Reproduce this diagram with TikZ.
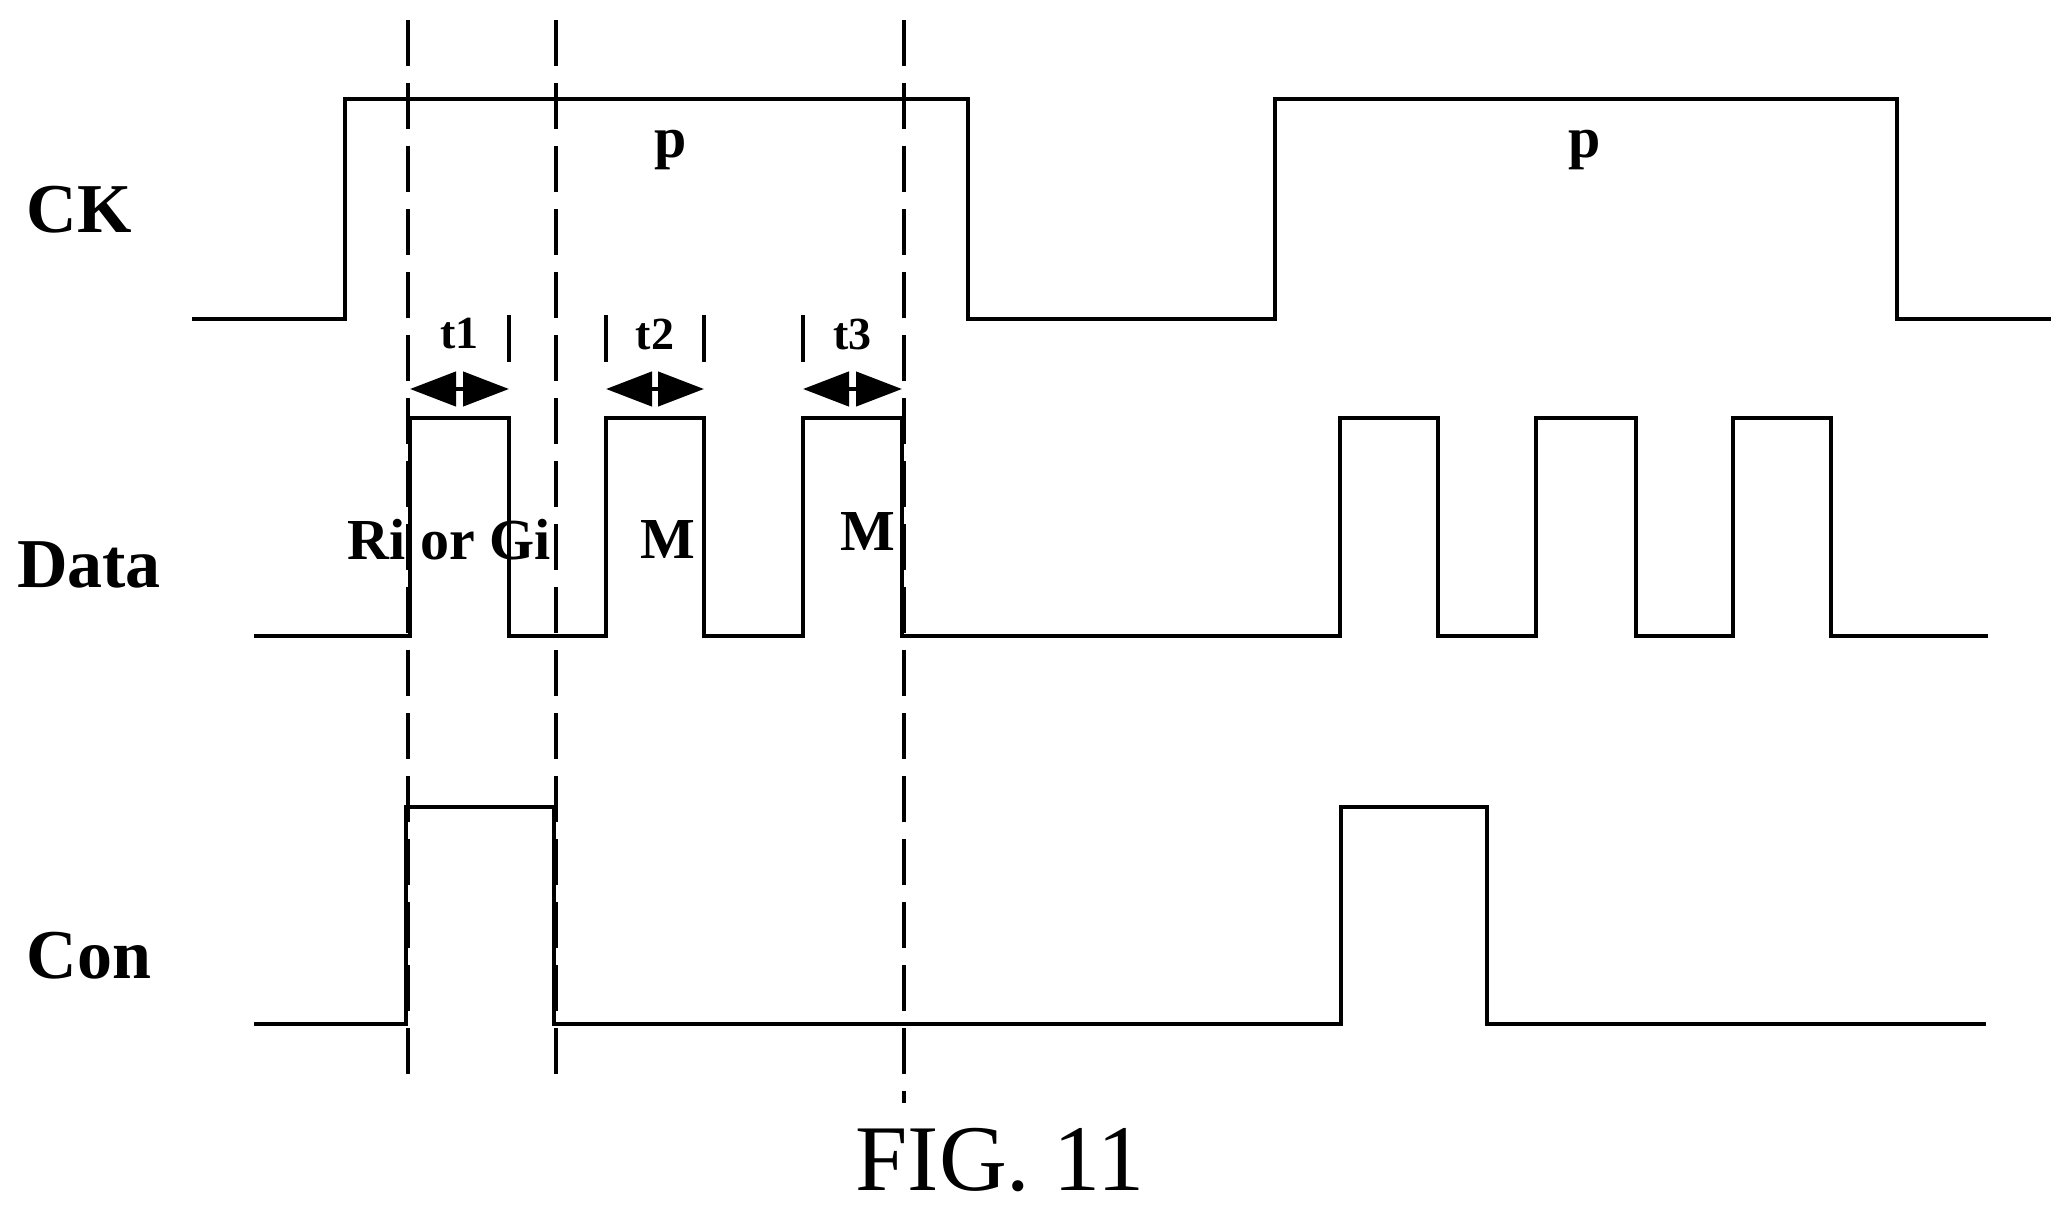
\documentclass[tikz,border=0pt]{standalone}
\usepackage{fontspec}
\setmainfont{Liberation Serif}
\usetikzlibrary{arrows.meta,calc}
\begin{document}
\begin{tikzpicture}[x=1pt,y=-1pt,
    wave/.style={line width=4.5pt,line join=miter},
    guide/.style={line width=3.5pt,dash pattern=on 46pt off 17pt},
    tick/.style={line width=3.5pt},
    span/.style={line width=4.5pt,{Triangle[length=46pt,width=34pt]}-{Triangle[length=46pt,width=34pt]}},
    sig/.style={font=\fontsize{70}{70}\selectfont\bfseries},
    lab/.style={font=\fontsize{58}{58}\selectfont\bfseries},
    small/.style={font=\fontsize{46}{46}\selectfont\bfseries},
]
\useasboundingbox (0,0) rectangle (2072,1218);
% signal names
\node[sig] (ck)   at (79,210)  {CK};
\node[sig] (data) at (89,565)  {Data};
\node[sig] (con)  at (89,956)  {Con};
% waveforms
\draw[wave] (192,319) -- (345,319) -- (345,99) -- (968,99) -- (968,319)
  -- (1275,319) -- (1275,99) -- (1897,99) -- (1897,319) -- (2051,319);
\draw[wave] (254,636) -- (410,636) -- (410,418) -- (509,418) -- (509,636)
  -- (606,636) -- (606,418) -- (704,418) -- (704,636)
  -- (803,636) -- (803,418) -- (902,418) -- (902,636)
  -- (1340,636) -- (1340,418) -- (1438,418) -- (1438,636)
  -- (1536,636) -- (1536,418) -- (1636,418) -- (1636,636)
  -- (1733,636) -- (1733,418) -- (1831,418) -- (1831,636) -- (1988,636);
\draw[wave] (254,1024) -- (406,1024) -- (406,807) -- (554,807) -- (554,1024)
  -- (1341,1024) -- (1341,807) -- (1487,807) -- (1487,1024) -- (1986,1024);
% guides
\foreach \x/\b in {408/1084,556/1084,904/1103}
  \draw[guide] (\x,20) -- (\x,\b);
\foreach \x in {509,606,704,803}
  \draw[tick] (\x,315) -- (\x,362);
% time spans
\foreach \n/\a/\b in {1/410/509,2/606/704,3/803/902}{
  \coordinate (s\n) at (\a,389);
  \coordinate (e\n) at (\b,389);
  \draw[span] (s\n) -- (e\n);
  \node[small] (t\n) at ($(s\n)!0.5!(e\n)+(0,-55)$) {t\n};
}
% labels
\node[lab] (p1) at (671,150) {p};
\node[lab] (p2) at (1585,150) {p};
\node[lab] (rg) at (449,540) {Ri or Gi};
\node[lab] (m1) at (668,540) {M};
\node[lab] (m2) at (868,532) {M};
\node[font=\fontsize{94}{94}\selectfont] (fig) at (1000,1160) {FIG. 11};
\end{tikzpicture}
\end{document}
